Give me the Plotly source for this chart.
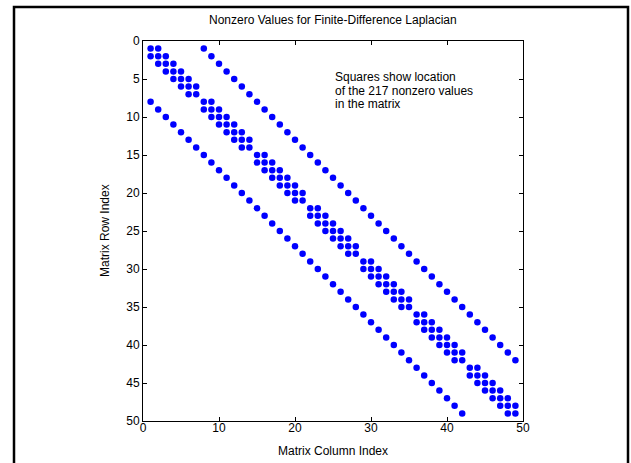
import plotly.graph_objects as go

# Nonzero column indices for each matrix row (rows 1..49)
row_nonzero_cols = [
    [1, 2, 8], [1, 2, 3, 9], [2, 3, 4, 10], [3, 4, 5, 11], [4, 5, 6, 12], [5, 6, 7, 13], [6, 7, 14],
    [1, 8, 9, 15], [2, 8, 9, 10, 16], [3, 9, 10, 11, 17], [4, 10, 11, 12, 18], [5, 11, 12, 13, 19], [6, 12, 13, 14, 20], [7, 13, 14, 21],
    [8, 15, 16, 22], [9, 15, 16, 17, 23], [10, 16, 17, 18, 24], [11, 17, 18, 19, 25], [12, 18, 19, 20, 26], [13, 19, 20, 21, 27], [14, 20, 21, 28],
    [15, 22, 23, 29], [16, 22, 23, 24, 30], [17, 23, 24, 25, 31], [18, 24, 25, 26, 32], [19, 25, 26, 27, 33], [20, 26, 27, 28, 34], [21, 27, 28, 35],
    [22, 29, 30, 36], [23, 29, 30, 31, 37], [24, 30, 31, 32, 38], [25, 31, 32, 33, 39], [26, 32, 33, 34, 40], [27, 33, 34, 35, 41], [28, 34, 35, 42],
    [29, 36, 37, 43], [30, 36, 37, 38, 44], [31, 37, 38, 39, 45], [32, 38, 39, 40, 46], [33, 39, 40, 41, 47], [34, 40, 41, 42, 48], [35, 41, 42, 49],
    [36, 43, 44], [37, 43, 44, 45], [38, 44, 45, 46], [39, 45, 46, 47], [40, 46, 47, 48], [41, 47, 48, 49], [42, 48, 49],
]

x_ticks = [0, 10, 20, 30, 40, 50]
y_ticks = [0, 5, 10, 15, 20, 25, 30, 35, 40, 45, 50]

title_text = "Nonzero Values for Finite-Difference Laplacian"
x_label = "Matrix Column Index"
y_label = "Matrix Row Index"
note_lines = ["Squares show location", "of the 217 nonzero values", "in the matrix"]

rows = []
cols = []
for r, cs in enumerate(row_nonzero_cols, start=1):
    for c in cs:
        rows.append(r)
        cols.append(c)

FONT = "Liberation Sans, Arial, sans-serif"

fig = go.Figure()
fig.add_trace(go.Scatter(
    x=cols, y=rows, mode="markers",
    marker=dict(symbol="circle", size=6.5, color="#0000FF", line=dict(width=0)),
    hoverinfo="x+y", showlegend=False,
))

W, H = 631, 463
L, R, T, B = 143, 523, 41, 421
pw, ph = R - L, B - T

def px(x):
    return (x - L) / pw

def py(y):
    return (B - y) / ph

annots = [
    dict(text=title_text, xref="paper", yref="paper", x=0.5, y=py(20),
         showarrow=False, xanchor="center", yanchor="middle",
         font=dict(family=FONT, size=12, color="#000000")),
    dict(text=x_label, xref="paper", yref="paper", x=0.5, y=py(451),
         showarrow=False, xanchor="center", yanchor="middle",
         font=dict(family=FONT, size=12, color="#000000")),
    dict(text=y_label, xref="paper", yref="paper", x=px(105), y=0.5,
         showarrow=False, xanchor="center", yanchor="middle", textangle=-90,
         font=dict(family=FONT, size=12, color="#000000")),
]
for i, line in enumerate(note_lines):
    annots.append(dict(text=line, xref="paper", yref="paper", x=px(333), y=py(77 + 13.5 * i),
                       showarrow=False, xanchor="left", yanchor="middle", align="left",
                       font=dict(family=FONT, size=12, color="#000000")))

fig.update_layout(
    width=W, height=H,
    margin=dict(l=L, r=W - R, t=T, b=H - B, pad=0),
    paper_bgcolor="white", plot_bgcolor="white",
    font=dict(family=FONT, size=12, color="#000000"),
    xaxis=dict(range=[0, 50], tickvals=x_ticks, ticks="inside", ticklen=4,
               tickcolor="#000000", showline=True, linecolor="#000000", linewidth=1,
               mirror="ticks", showgrid=False, zeroline=False, ticklabelstandoff=-4,
               tickfont=dict(family=FONT, size=12, color="#000000")),
    yaxis=dict(range=[50, 0], tickvals=y_ticks, ticks="inside", ticklen=4,
               tickcolor="#000000", showline=True, linecolor="#000000", linewidth=1,
               mirror="ticks", showgrid=False, zeroline=False,
               tickfont=dict(family=FONT, size=12, color="#000000")),
    annotations=annots,
    shapes=[
        dict(type="rect", xref="paper", yref="paper",
             x0=px(14), x1=px(628), y0=py(475), y1=py(7),
             line=dict(color="#000000", width=2.5), layer="above"),
    ],
)

fig.write_html("out.html")
